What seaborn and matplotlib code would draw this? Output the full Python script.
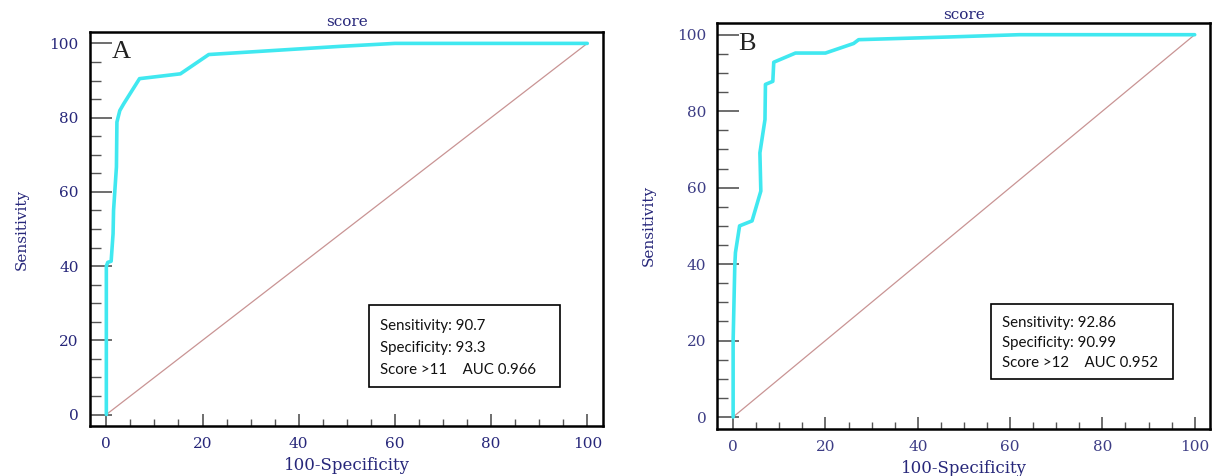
import numpy as np
import pandas as pd
import seaborn as sns
import matplotlib.pyplot as plt
from matplotlib.ticker import MultipleLocator

# ROC points (100-Specificity, Sensitivity)
fpr_a = [0, 0, 0.3, 1.0, 1.4, 1.5, 2.1, 2.2, 2.8, 3.6, 6.9, 15.4, 21.3, 48.6, 60, 100]
tpr_a = [0, 40, 41, 41.3, 48.7, 55, 66.7, 78.8, 81.9, 83.7, 90.5, 91.8, 97.0, 99.2, 100, 100]

fpr_b = [0, 0, 0.36, 0.5, 1.4, 4.1, 6.0, 5.8, 6.9, 7.0, 8.6, 8.8, 13.5, 20.0, 26.1, 27.2, 46.7, 62, 100]
tpr_b = [0, 20, 39.6, 43, 50, 51.3, 59.1, 69.1, 77.8, 87, 87.8, 92.8, 95.2, 95.2, 97.7, 98.7, 99.4, 100, 100]

diag = [0, 100]

panel_labels = ["A", "B"]
stats_a = ["Sensitivity: 90.7", "Specificity: 93.3", "Score >11    AUC 0.966"]
stats_b = ["Sensitivity: 92.86", "Specificity: 90.99", "Score >12    AUC 0.952"]

NAVY = "#27277a"
CYAN = "#40e8f0"
DIAG = "#c99494"

sns.set_style("white")
plt.rcParams["font.family"] = ["DejaVu Serif"]

fig = plt.figure(figsize=(12.16, 4.76), dpi=100)
ax_a = fig.add_axes([0.074, 0.105, 0.422, 0.828])
ax_b = fig.add_axes([0.590, 0.099, 0.405, 0.853])


def draw_panel(ax, fpr, tpr, label, stats, box, tick_col, title_pad):
    df = pd.DataFrame({"fpr": fpr, "tpr": tpr})
    sns.lineplot(x=diag, y=diag, ax=ax, color=DIAG, linewidth=0.9)
    sns.lineplot(data=df, x="fpr", y="tpr", ax=ax, sort=False, estimator=None,
                 color=CYAN, linewidth=2.6)
    ax.set_xlim(-3.4, 103.3)
    ax.set_ylim(-3.1, 103.1)
    ax.xaxis.set_major_locator(MultipleLocator(20))
    ax.yaxis.set_major_locator(MultipleLocator(20))
    ax.xaxis.set_minor_locator(MultipleLocator(5))
    ax.yaxis.set_minor_locator(MultipleLocator(5))
    ax.tick_params(axis="x", which="major", direction="in", length=9, width=1.2,
                   color="#555555", labelcolor=tick_col, labelsize=11, pad=8)
    ax.tick_params(axis="x", which="minor", direction="in", length=5, width=1.0,
                   color="#555555")
    ax.tick_params(axis="y", which="major", direction="in", length=16, width=1.2,
                   color="#555555", labelcolor=tick_col, labelsize=11, pad=8)
    ax.tick_params(axis="y", which="minor", direction="in", length=8, width=1.0,
                   color="#555555")
    ax.tick_params(bottom=True, left=True, top=False, right=False, which="both")
    for s in ax.spines.values():
        s.set_color("black")
        s.set_linewidth(1.8)
    ax.set_xlabel("100-Specificity", color=NAVY, fontsize=12, labelpad=4)
    ax.set_ylabel("Sensitivity", color=NAVY, fontsize=11, labelpad=15)
    ax.set_title("score", color=NAVY, fontsize=11, pad=title_pad)
    ax.text(0.043, 0.949, label, transform=ax.transAxes, fontsize=19,
            family=["Liberation Serif", "DejaVu Serif"],
            color="#222222", va="center", ha="left")
    x0, y0, x1, y1 = box
    ax.add_patch(plt.Rectangle((x0, y0), x1 - x0, y1 - y0, transform=ax.transAxes,
                               fill=False, edgecolor="black", linewidth=1.2))
    h = y1 - y0
    for i, line in enumerate(stats):
        ax.text(x0 + 0.022, y1 - h * (0.25 + 0.27 * i), line, transform=ax.transAxes,
                fontsize=10.8, family=["Lato", "DejaVu Sans"], color="#111111",
                va="center", ha="left")


draw_panel(ax_a, fpr_a, tpr_a, panel_labels[0], stats_a,
           (0.544, 0.099, 0.916, 0.307), NAVY, 4)
draw_panel(ax_b, fpr_b, tpr_b, panel_labels[1], stats_b,
           (0.556, 0.123, 0.925, 0.308), "#3d3d85", 3)

fig.savefig("out.png", dpi=100)
